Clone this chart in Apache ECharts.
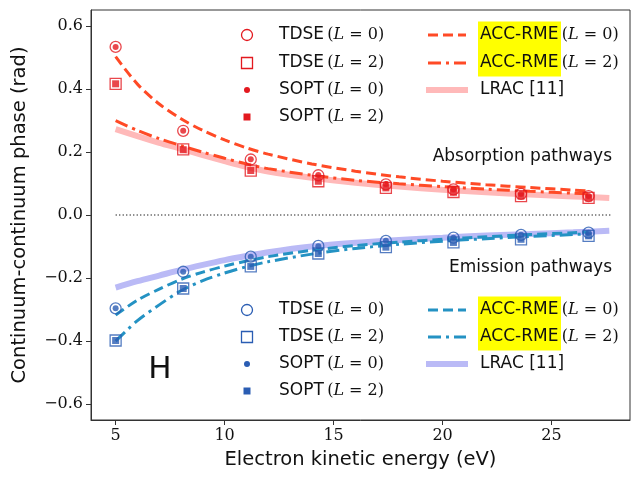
<!DOCTYPE html>
<html lang="en">
<head>
    <meta charset="UTF-8">
    <title>Continuum-continuum phase</title>
    <script src="https://cdn.jsdelivr.net/npm/echarts@6/dist/echarts.min.js"></script>
    <style>
        html, body { margin: 0; padding: 0; background: #fff; }
    </style>
</head>
<body>
<div id="main" style="width: 637px;height:477px;"></div>

<script>
    // harmonic sideband energies (eV)
    var energies = [5, 8.1, 11.2, 14.3, 17.4, 20.5, 23.6, 26.7];

    // absorption pathways
    var absTdseL0 = [0.533, 0.267, 0.176, 0.126, 0.097, 0.081, 0.067, 0.060];
    var absTdseL2 = [0.416, 0.208, 0.141, 0.107, 0.086, 0.073, 0.060, 0.054];
    var absSoptL0 = [0.533, 0.267, 0.177, 0.127, 0.098, 0.082, 0.067, 0.060];
    var absSoptL2 = [0.416, 0.207, 0.141, 0.107, 0.086, 0.072, 0.060, 0.054];

    // emission pathways
    var emiTdseL0 = [-0.296, -0.180, -0.132, -0.098, -0.082, -0.072, -0.063, -0.056];
    var emiTdseL2 = [-0.398, -0.233, -0.163, -0.122, -0.102, -0.087, -0.077, -0.066];
    var emiSoptL0 = [-0.296, -0.180, -0.132, -0.099, -0.082, -0.072, -0.063, -0.056];
    var emiSoptL2 = [-0.398, -0.233, -0.163, -0.122, -0.102, -0.087, -0.077, -0.066];

    // model curves
    var accE = [5, 6, 7, 8, 9, 10, 11, 12, 14, 16, 18, 20, 22, 24, 26, 26.7];
    var absAccL0 = [0.502, 0.415, 0.352, 0.305, 0.268, 0.238, 0.213, 0.193, 0.162, 0.139, 0.121, 0.107, 0.096, 0.087, 0.079, 0.076];
    var absAccL2 = [0.299, 0.268, 0.242, 0.220, 0.199, 0.180, 0.162, 0.147, 0.126, 0.110, 0.099, 0.090, 0.082, 0.075, 0.069, 0.067];
    var emiAccL0 = [-0.317, -0.270, -0.235, -0.204, -0.181, -0.162, -0.146, -0.132, -0.112, -0.097, -0.086, -0.077, -0.069, -0.062, -0.056, -0.054];
    var emiAccL2 = [-0.400, -0.335, -0.285, -0.240, -0.208, -0.184, -0.164, -0.148, -0.124, -0.106, -0.093, -0.083, -0.075, -0.068, -0.062, -0.060];

    var lracE = [5, 6, 7, 8, 9, 10, 11, 12, 14, 16, 18, 20, 22, 24, 26, 27.65];
    var absLrac = [0.272, 0.250, 0.229, 0.210, 0.190, 0.171, 0.153, 0.138, 0.118, 0.102, 0.090, 0.080, 0.072, 0.065, 0.059, 0.054];
    var emiLrac = [-0.230, -0.210, -0.192, -0.174, -0.158, -0.143, -0.130, -0.118, -0.100, -0.088, -0.079, -0.072, -0.065, -0.060, -0.055, -0.050];

    var zeroLineE = [5, 27.7];
    var zeroLine = [0, 0];

    var xTicks = [5, 10, 15, 20, 25];
    var yTicks = [-0.6, -0.4, -0.2, 0.0, 0.2, 0.4, 0.6];

    var RED = '#e3191f', RED_LINE = '#ff4a26', RED_LRAC = '#ffb9b9';
    var BLUE = '#2a5db3', BLUE_LINE = '#2492c3', BLUE_LRAC = '#babaf6';

    function pairs(xs, ys) {
        var out = [];
        for (var i = 0; i < xs.length; i++) out.push([xs[i], ys[i]]);
        return out;
    }

    function lineSeries(name, xs, ys, color, width, type, z) {
        return {
            name: name, type: 'line', data: pairs(xs, ys), showSymbol: false, symbol: 'none',
            smooth: 0.3, z: z, silent: true,
            lineStyle: {color: color, width: width, type: type, cap: 'butt'}
        };
    }

    function markerSeries(name, ys, symbol, size, color, hollow) {
        return {
            name: name, type: 'scatter', data: pairs(energies, ys), symbol: symbol, symbolSize: size,
            z: 5, silent: true,
            itemStyle: hollow ? {color: 'rgba(0,0,0,0)', borderColor: color, borderWidth: 1.3}
                              : {color: color}
        };
    }

    // legend block drawn with graphic elements
    var sans = 'DejaVu Sans', serif = 'DejaVu Serif';
    var richStyles = {
        s: {fontFamily: sans, fontSize: 17, fill: '#111'},
        m: {fontFamily: serif, fontSize: 16, fill: '#111'},
        i: {fontFamily: serif, fontSize: 16, fontStyle: 'italic', fill: '#111'},
        h: {fontFamily: sans, fontSize: 17, fill: '#111'}
    };

    function legendBlock(rows, mColor, lColor, lracColor) {
        var els = [];
        var cx = 247, tx = 279, lx0 = 428, lx1 = 466, tx2 = 480;
        var labs = ['TDSE', 'TDSE', 'SOPT', 'SOPT'];
        var ls = ['0', '2', '0', '2'];
        // marker icons
        els.push({type: 'circle', shape: {cx: cx, cy: rows[0], r: 5.5},
            style: {fill: 'none', stroke: mColor, lineWidth: 1.3}});
        els.push({type: 'rect', shape: {x: cx - 5.5, y: rows[1] - 5.5, width: 11, height: 11},
            style: {fill: 'none', stroke: mColor, lineWidth: 1.3}});
        els.push({type: 'circle', shape: {cx: cx, cy: rows[2], r: 3}, style: {fill: mColor}});
        els.push({type: 'rect', shape: {x: cx - 3.5, y: rows[3] - 3.5, width: 7, height: 7}, style: {fill: mColor}});
        for (var k = 0; k < 4; k++) {
            els.push({type: 'text', x: tx, y: rows[k], style: {
                text: '{s|' + labs[k] + '} {m|(}{i|L}{m| = ' + ls[k] + ')}',
                rich: richStyles, verticalAlign: 'middle', align: 'left'}});
        }
        // highlight box
        els.push({type: 'rect', shape: {x: 478, y: rows[0] - 13.5, width: 83, height: rows[1] - rows[0] + 27},
            style: {fill: '#ffff00'}, z: 1});
        els.push({type: 'line', shape: {x1: lx0, y1: rows[0], x2: lx1, y2: rows[0]},
            style: {stroke: lColor, lineWidth: 3, lineDash: [10, 5]}});
        els.push({type: 'line', shape: {x1: lx0, y1: rows[1], x2: lx1, y2: rows[1]},
            style: {stroke: lColor, lineWidth: 3, lineDash: [13, 5, 3, 5]}});
        els.push({type: 'line', shape: {x1: 426, y1: rows[2], x2: 468, y2: rows[2]},
            style: {stroke: lracColor, lineWidth: 6}});
        for (var j = 0; j < 2; j++) {
            els.push({type: 'text', x: tx2, y: rows[j], z: 2, style: {
                text: '{h|ACC-RME} {m|(}{i|L}{m| = ' + (j === 0 ? '0' : '2') + ')}',
                rich: richStyles, verticalAlign: 'middle', align: 'left'}});
        }
        els.push({type: 'text', x: tx2, y: rows[2], style: {
            text: 'LRAC [11]', fontFamily: sans, fontSize: 17, fill: '#111', verticalAlign: 'middle'}});
        return els;
    }

    var myChart = echarts.init(document.getElementById('main'));

    var option = {
        animation: false,
        backgroundColor: '#fff',
        grid: {left: 91, right: 7, top: 10, bottom: 57, show: true, borderColor: '#333', borderWidth: 1},
        xAxis: {
            type: 'value', min: 3.87, max: 28.6,
            name: 'Electron kinetic energy (eV)', nameLocation: 'middle', nameGap: 30,
            nameTextStyle: {fontFamily: sans, fontSize: 19.5, color: '#111'},
            axisLine: {show: true, onZero: false, lineStyle: {color: '#333'}},
            axisTick: {show: true, length: 5, customValues: xTicks, lineStyle: {color: '#333'}},
            axisLabel: {customValues: xTicks, fontFamily: serif, fontSize: 16, color: '#111', margin: 8},
            splitLine: {show: false}
        },
        yAxis: {
            type: 'value', min: -0.65, max: 0.65,
            name: 'Continuum-continuum phase (rad)', nameLocation: 'middle', nameGap: 61,
            nameTextStyle: {fontFamily: sans, fontSize: 19.5, color: '#111'},
            axisLine: {show: true, onZero: false, lineStyle: {color: '#333'}},
            axisTick: {show: true, length: 5, customValues: yTicks, lineStyle: {color: '#333'}},
            axisLabel: {
                customValues: yTicks, fontFamily: serif, fontSize: 16, color: '#111', margin: 8,
                formatter: function (v) {
                    var s = Math.abs(v).toFixed(1);
                    return v < -1e-9 ? '\u2212' + s : s;
                }
            },
            splitLine: {show: false}
        },
        series: [
            {
                name: 'zero', type: 'line', data: pairs(zeroLineE, zeroLine), symbol: 'none', silent: true, z: 1,
                lineStyle: {color: '#000', width: 1.2, type: [1.2, 2.3]}
            },
            lineSeries('LRAC abs', lracE, absLrac, RED_LRAC, 6, 'solid', 2),
            lineSeries('LRAC emi', lracE, emiLrac, BLUE_LRAC, 6, 'solid', 2),
            lineSeries('ACC-RME L0 abs', accE, absAccL0, RED_LINE, 3, [10, 5], 3),
            lineSeries('ACC-RME L2 abs', accE, absAccL2, RED_LINE, 3, [13, 5, 3, 5], 3),
            lineSeries('ACC-RME L0 emi', accE, emiAccL0, BLUE_LINE, 3, [10, 5], 3),
            lineSeries('ACC-RME L2 emi', accE, emiAccL2, BLUE_LINE, 3, [13, 5, 3, 5], 3),
            markerSeries('TDSE L0 abs', absTdseL0, 'circle', 11, RED, true),
            markerSeries('TDSE L2 abs', absTdseL2, 'rect', 11, RED, true),
            markerSeries('SOPT L0 abs', absSoptL0, 'circle', 6, RED, false),
            markerSeries('SOPT L2 abs', absSoptL2, 'rect', 7, RED, false),
            markerSeries('TDSE L0 emi', emiTdseL0, 'circle', 11, BLUE, true),
            markerSeries('TDSE L2 emi', emiTdseL2, 'rect', 11, BLUE, true),
            markerSeries('SOPT L0 emi', emiSoptL0, 'circle', 6, BLUE, false),
            markerSeries('SOPT L2 emi', emiSoptL2, 'rect', 7, BLUE, false)
        ],
        graphic: [].concat(
            legendBlock([35, 63, 90, 117], RED, RED_LINE, RED_LRAC),
            legendBlock([310, 337, 364, 391], BLUE, BLUE_LINE, BLUE_LRAC),
            [
                {type: 'text', x: 612, y: 157, style: {text: 'Absorption pathways', fontFamily: sans, fontSize: 17,
                    fill: '#111', align: 'right', verticalAlign: 'middle'}},
                {type: 'text', x: 612, y: 268, style: {text: 'Emission pathways', fontFamily: sans, fontSize: 17,
                    fill: '#111', align: 'right', verticalAlign: 'middle'}},
                {type: 'text', x: 160, y: 370, style: {text: 'H', fontFamily: sans, fontSize: 31,
                    fill: '#111', align: 'center', verticalAlign: 'middle'}}
            ]
        )
    };

    myChart.setOption(option);
</script>
</body>
</html>
